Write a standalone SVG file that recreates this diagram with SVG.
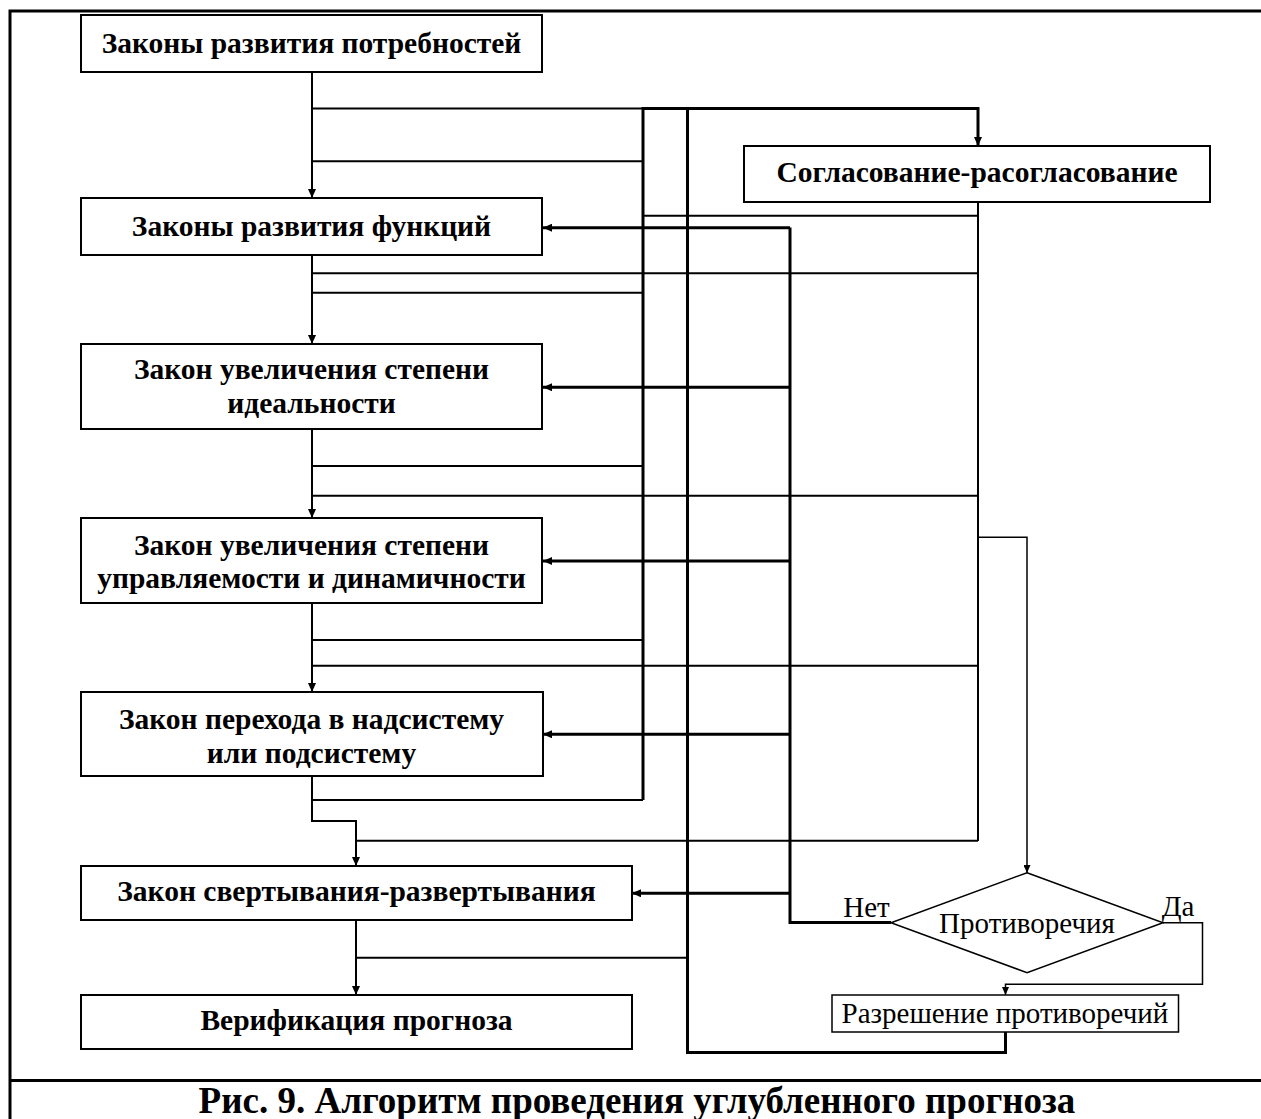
<svg xmlns="http://www.w3.org/2000/svg" width="1261" height="1119" viewBox="0 0 1261 1119">
<style>
.box{fill:#fff;stroke:#000;stroke-width:2}
.thin{fill:#fff;stroke:#000;stroke-width:1.5}
.t{font-family:"Liberation Serif","Times New Roman",serif;font-weight:bold;font-size:29.5px;text-anchor:middle;fill:#000}
.r{font-family:"Liberation Serif","Times New Roman",serif;font-size:29px;text-anchor:middle;fill:#000}
.c{fill:none;stroke:#000;stroke-width:2}
.k{fill:none;stroke:#000;stroke-width:3}
.s{fill:none;stroke:#000;stroke-width:1.5}
</style>
<defs>
<marker id="ar" markerUnits="userSpaceOnUse" markerWidth="9" markerHeight="8" refX="9" refY="4" orient="auto">
<path d="M0,0 L9,4 L0,8 z" fill="#000"/>
</marker>
<marker id="as" markerUnits="userSpaceOnUse" markerWidth="8" markerHeight="7" refX="8" refY="3.5" orient="auto">
<path d="M0,0 L8,3.5 L0,7 z" fill="#000"/>
</marker>
</defs>
<rect x="0" y="0" width="1261" height="1119" fill="#fff"/>
<g id="frame" fill="none" stroke="#000" stroke-width="3">
<path d="M10,1119 V11 H1261"/>
<path d="M10,1080.5 H1261"/>
</g>
<g id="connectors">
<path class="c" d="M312,72 V198" marker-end="url(#ar)"/>
<path class="c" d="M312,255 V344" marker-end="url(#ar)"/>
<path class="c" d="M312,429 V518" marker-end="url(#ar)"/>
<path class="c" d="M312,603 V692" marker-end="url(#ar)"/>
<path class="c" d="M312,776 V821 H356 V866" marker-end="url(#ar)"/>
<path class="c" d="M356,920 V995" marker-end="url(#ar)"/>
<path class="c" d="M312,108.5 H643"/>
<path class="k" d="M643,108.5 H978 V146" marker-end="url(#ar)"/>
<path class="k" d="M643,107 V800"/>
<path class="k" d="M687.5,107 V1052.5 H1005.5 V1032"/>
<path class="k" d="M790,227.5 V922.5 H891"/>
<path class="c" d="M978,202 V841"/>
<path class="c" d="M312,161.3 H643"/>
<path class="c" d="M643,215.7 H978"/>
<path class="k" d="M790,227.7 H543" marker-end="url(#ar)"/>
<path class="c" d="M312,273.3 H978"/>
<path class="c" d="M312,292.7 H643"/>
<path class="k" d="M790,387.3 H543" marker-end="url(#ar)"/>
<path class="c" d="M312,466 H643"/>
<path class="c" d="M312,495.7 H978"/>
<path class="k" d="M790,561 H543" marker-end="url(#ar)"/>
<path class="c" d="M312,640 H643"/>
<path class="c" d="M312,665.7 H978"/>
<path class="k" d="M790,734.3 H543" marker-end="url(#ar)"/>
<path class="c" d="M312,800 H643"/>
<path class="c" d="M356,840.7 H978"/>
<path class="k" d="M790,893.3 H632" marker-end="url(#ar)"/>
<path class="c" d="M356,957.7 H687.5"/>
<path class="s" d="M978,537.3 H1027 V873" marker-end="url(#as)"/>
<path class="s" d="M1163,922.7 H1202.5 V984.3 H1005.5 V995" marker-end="url(#as)"/>
</g>
<g id="n1"><rect class="box" x="81" y="15" width="461" height="57"/><text class="t" x="311.5" y="53">Законы развития потребностей</text></g>
<g id="n2"><rect class="box" x="81" y="198" width="461" height="57"/><text class="t" x="311.5" y="236">Законы развития функций</text></g>
<g id="n3"><rect class="box" x="81" y="344" width="461" height="85"/><text class="t" x="311.5" y="379">Закон увеличения степени</text><text class="t" x="311.5" y="413">идеальности</text></g>
<g id="n4"><rect class="box" x="81" y="518" width="461" height="85"/><text class="t" x="311.5" y="555">Закон увеличения степени</text><text class="t" x="311.5" y="587.5">управляемости и динамичности</text></g>
<g id="n5"><rect class="box" x="81" y="692" width="462" height="84"/><text class="t" x="311.5" y="728.5">Закон перехода в надсистему</text><text class="t" x="311.5" y="762.5">или подсистему</text></g>
<g id="n6"><rect class="box" x="81" y="866" width="551" height="54"/><text class="t" x="356.5" y="901">Закон свертывания-развертывания</text></g>
<g id="n7"><rect class="box" x="81" y="995" width="551" height="54"/><text class="t" x="356.5" y="1029.5">Верификация прогноза</text></g>
<g id="n8"><rect class="box" x="744" y="146" width="466" height="56"/><text class="t" x="977" y="182">Согласование-расогласование</text></g>
<g id="n9"><polygon class="thin" points="1027,872.7 1163,922.7 1027,972.7 891,922.7"/><text class="r" x="1027" y="933">Противоречия</text><text class="r" x="866.5" y="917">Нет</text><text class="r" x="1178" y="916">Да</text></g>
<g id="n10"><rect class="thin" x="832" y="995" width="346.5" height="37"/><text class="r" x="1005" y="1023">Разрешение противоречий</text></g>
<g id="caption"><text class="t" x="637" y="1113" style="font-size:37px">Рис. 9. Алгоритм проведения углубленного прогноза</text></g>
</svg>
